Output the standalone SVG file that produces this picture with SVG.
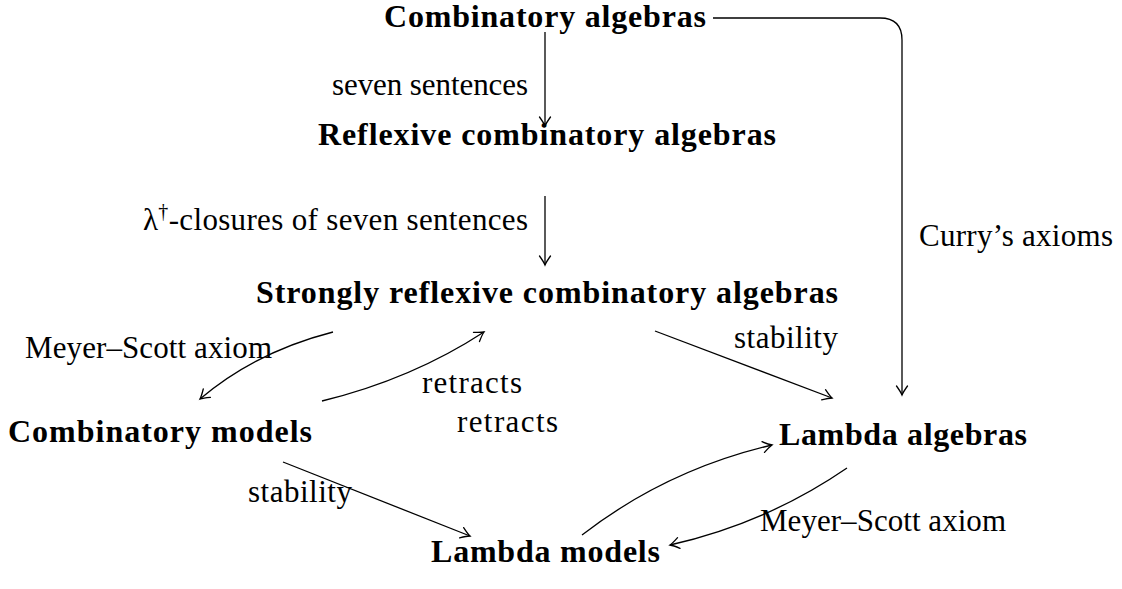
<svg xmlns="http://www.w3.org/2000/svg" width="1122" height="589" viewBox="0 0 1122 589">
  <style>
    .node { font-family: "Liberation Serif", "Times New Roman", serif; font-weight: bold; font-size: 32px; fill: #000; }
    .lbl { font-family: "Liberation Serif", "Times New Roman", serif; font-size: 31px; fill: #000; }
    .edge { fill: none; stroke: #000; stroke-width: 1.3; marker-end: url(#to); }
  </style>
  <defs>
    <!-- open "to"-style arrow tip -->
    <marker id="to" markerUnits="userSpaceOnUse" viewBox="-11 -7 13 14" refX="0" refY="0" markerWidth="13" markerHeight="14" orient="auto" overflow="visible">
      <path d="M -9,-5.5 Q -3,-1.2 0,0 Q -3,1.2 -9,5.5" fill="none" stroke="#000" stroke-width="1.3" stroke-linecap="round"/>
    </marker>
  </defs>
  <rect width="1122" height="589" fill="#fff"/>

  <!-- nodes -->
  <g id="combinatory-algebras">
    <text class="node" x="384" y="27" textLength="322">Combinatory algebras</text>
  </g>
  <g id="reflexive-combinatory-algebras">
    <text class="node" x="318" y="145" textLength="458">Reflexive combinatory algebras</text>
  </g>
  <g id="strongly-reflexive-combinatory-algebras">
    <text class="node" x="256" y="303" textLength="582">Strongly reflexive combinatory algebras</text>
  </g>
  <g id="combinatory-models">
    <text class="node" x="8" y="442" textLength="304">Combinatory models</text>
  </g>
  <g id="lambda-algebras">
    <text class="node" x="779" y="445" textLength="248">Lambda algebras</text>
  </g>
  <g id="lambda-models">
    <text class="node" x="431" y="562" textLength="229">Lambda models</text>
  </g>

  <!-- connectors -->
  <g id="connectors">
    <path class="edge" d="M 545,32 L 545,126"/>
    <path class="edge" d="M 545,196 L 545,265"/>
    <path class="edge" d="M 713,18 L 880,18 Q 902,18 902,40 L 902,395"/>
    <path class="edge" d="M 655,331 L 832,398"/>
    <path class="edge" d="M 333,332 Q 255,352 200,399"/>
    <path class="edge" d="M 322,401 Q 412,379 484,332"/>
    <path class="edge" d="M 283,462 L 470,536"/>
    <path class="edge" d="M 582,535 Q 666,470 772,445"/>
    <path class="edge" d="M 847,468 Q 767,523 670,545"/>

    <!-- edge labels -->
    <text class="lbl" x="332" y="95" textLength="196">seven sentences</text>
    <text class="lbl" x="143" y="230" textLength="385">λ<tspan font-size="20" dy="-12">†</tspan><tspan dy="12">-closures of seven sentences</tspan></text>
    <text class="lbl" x="919" y="246" textLength="194">Curry’s axioms</text>
    <text class="lbl" x="25" y="358" textLength="247">Meyer–Scott axiom</text>
    <text class="lbl" x="734" y="348" textLength="104">stability</text>
    <text class="lbl" x="422" y="393" textLength="100">retracts</text>
    <text class="lbl" x="457" y="432" textLength="101">retracts</text>
    <text class="lbl" x="248" y="502" textLength="104">stability</text>
    <text class="lbl" x="760" y="531" textLength="246">Meyer–Scott axiom</text>
  </g>
</svg>
